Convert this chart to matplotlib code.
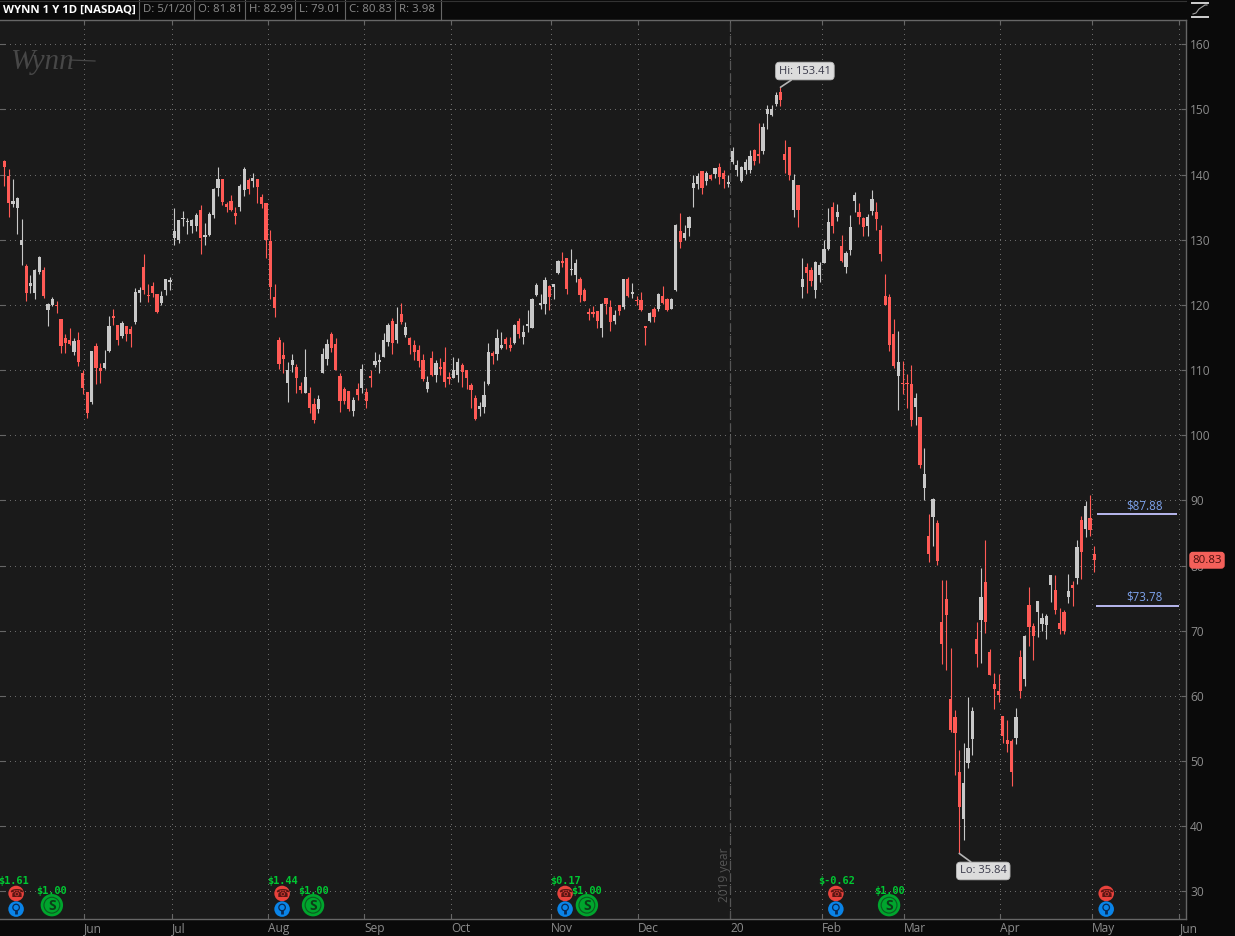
"""WYNN 1 Y 1D candlestick chart, thinkorswim dark look."""

import numpy as np
import matplotlib
matplotlib.use("Agg")
import matplotlib.pyplot as plt
from matplotlib.lines import Line2D
from matplotlib.patches import Rectangle

opens = [
    142.04, 139.74, 135.44, 134.88, 129.15, 125.93, 122.91, 121.79, 125.01, 125.32,
    119.23, 119.95, 120.00, 117.80, 114.88, 114.68, 112.78, 114.57, 109.51, 106.60,
    105.06, 113.65, 110.28, 110.28, 112.89, 118.26, 116.88, 115.19, 116.72, 116.26,
    117.44, 121.79, 125.78, 121.48, 122.86, 121.63, 120.35, 122.25, 123.47, 130.23,
    129.92, 133.19, 132.78, 132.07, 132.07, 134.52, 130.38, 130.69, 133.76, 137.90,
    139.28, 135.44, 135.90, 134.06, 134.98, 137.59, 139.13, 138.97, 139.28, 136.52,
    135.60, 129.77, 121.17, 114.57,
    112.36, 108.05, 110.82, 110.52, 107.59, 106.52, 106.52, 104.82, 104.05, 109.59,
    111.75, 115.59, 114.05, 109.13, 107.13, 106.82, 103.75, 107.13, 107.29, 106.67,
    109.13, 110.82, 111.28, 112.05, 114.36, 117.59, 114.67, 118.67, 115.44, 114.98,
    113.90, 113.13, 111.59, 107.13, 111.90, 109.29, 110.52, 111.28, 108.98, 108.82,
    109.29, 110.82, 110.05, 107.75, 105.75, 104.05, 104.36, 107.90, 112.67, 112.52,
    113.44, 114.82, 113.90, 114.16, 117.59, 115.13, 116.82,
    116.42, 121.48, 119.95, 120.16, 122.87, 122.71, 124.86, 126.70, 127.16, 125.37,
    124.55, 123.94, 122.25, 118.98, 118.88, 119.03, 116.42, 121.03, 119.64, 117.50,
    119.95, 119.64, 123.94, 121.64, 120.82, 120.72, 116.73, 117.50, 119.34, 119.34,
    121.33, 120.87, 119.34, 122.25, 131.31, 130.23, 131.77, 137.91, 138.52, 140.51,
    138.98, 139.90, 140.05, 141.13, 140.21, 138.52, 141.89, 140.67, 138.98, 140.67,
    140.67, 143.74, 143.12, 143.64, 149.28, 149.13, 150.82, 152.65,
    143.16, 144.23, 134.59, 138.42, 122.81, 125.87, 125.41, 122.35, 124.64, 126.48,
    128.57, 135.05, 133.52, 129.08, 125.87, 128.47, 135.97, 134.28, 133.37, 132.14,
    134.44, 134.28, 131.53, 121.43, 121.28, 115.59, 109.13, 108.05, 108.00, 107.90,
    104.36, 102.82, 91.90, 84.52, 87.44, 86.51,
    71.30, 74.83, 59.49, 56.72, 48.28, 41.07, 49.67, 53.35, 68.69, 71.61,
    77.44, 66.70, 61.79, 60.71, 56.88, 53.18, 53.04, 53.50, 65.93, 62.56,
    73.91, 70.69, 72.84, 71.00, 70.84, 76.98, 76.21, 71.15, 72.84, 75.14,
    76.98, 78.05, 86.98, 85.59, 87.28, 81.81,
]
highs = [
    142.30, 140.92, 139.38, 136.57, 133.19, 126.34, 124.60, 125.47, 127.52, 125.83,
    120.30, 121.28, 120.66, 117.80, 115.60, 116.42, 114.98, 115.90, 109.97, 106.60,
    112.89, 114.22, 111.15, 113.14, 118.36, 119.43, 116.88, 117.59, 116.77, 116.77,
    122.66, 122.81, 127.87, 123.27, 123.47, 121.63, 122.20, 124.04, 124.34, 134.93,
    132.99, 134.47, 133.40, 133.14, 134.16, 135.39, 132.63, 134.32, 138.00, 141.22,
    139.28, 135.75, 136.93, 135.09, 138.51, 141.22, 139.54, 140.30, 139.28, 137.08,
    135.60, 131.56, 123.27, 115.14,
    114.31, 111.18, 112.52, 110.93, 108.16, 113.23, 107.39, 105.70, 106.16, 113.39,
    114.77, 115.90, 114.93, 109.54, 107.44, 106.82, 105.90, 108.00, 110.93, 107.23,
    110.05, 112.77, 112.46, 115.75, 117.23, 118.00, 119.69, 120.31, 117.39, 115.13,
    114.62, 113.85, 112.52, 109.08, 112.98, 111.54, 111.85, 113.54, 109.70, 112.00,
    111.85, 111.08, 110.05, 108.00, 106.16, 105.13, 108.31, 114.16, 112.93, 116.31,
    115.85, 115.08, 115.08, 117.13, 118.00, 116.93, 119.23,
    121.08, 123.43, 121.74, 124.35, 123.12, 123.28, 126.96, 128.19, 127.16, 128.54,
    127.11, 124.35, 122.66, 119.59, 119.90, 119.13, 120.26, 121.03, 120.82, 119.29,
    119.95, 123.94, 124.25, 123.43, 121.43, 122.05, 116.83, 118.98, 119.64, 121.89,
    122.97, 121.13, 121.13, 132.48, 134.17, 132.33, 133.71, 139.90, 140.31, 140.51,
    140.62, 140.05, 140.97, 141.84, 140.77, 140.00, 144.30, 142.20, 141.28, 142.35,
    143.74, 143.94, 148.00, 147.85, 150.67, 150.76, 152.70, 153.41,
    145.25, 144.28, 140.05, 138.42, 127.19, 126.43, 125.82, 126.79, 126.58, 129.90,
    134.85, 135.82, 135.46, 130.71, 128.27, 133.77, 137.29, 135.61, 133.47, 134.03,
    137.60, 135.76, 132.24, 124.74, 121.64, 117.85, 116.00, 111.39, 109.39, 110.77,
    106.46, 102.87, 98.00, 87.85, 90.31, 87.08,
    77.85, 77.85, 67.42, 57.90, 51.76, 52.84, 59.85, 58.36, 71.41, 79.69,
    83.89, 67.26, 63.58, 63.43, 56.88, 56.37, 53.45, 58.21, 67.11, 69.41,
    76.78, 71.25, 74.53, 72.79, 72.63, 78.51, 78.62, 73.55, 73.25, 78.67,
    77.59, 83.89, 87.59, 89.90, 90.82, 82.99,
]
lows = [
    138.26, 133.50, 135.03, 130.94, 126.14, 120.61, 121.84, 120.97, 124.75, 121.07,
    116.77, 119.79, 118.77, 112.63, 112.63, 113.81, 112.32, 110.64, 106.39, 102.66,
    104.80, 107.87, 108.08, 110.18, 112.73, 116.93, 113.86, 114.88, 114.52, 113.55,
    117.08, 120.46, 121.68, 120.46, 121.22, 118.72, 120.00, 121.53, 122.30, 129.20,
    129.51, 132.12, 130.94, 130.99, 131.35, 127.82, 129.20, 130.53, 133.30, 136.72,
    135.29, 134.27, 134.47, 132.43, 134.42, 136.72, 137.03, 138.10, 135.65, 134.83,
    127.21, 120.92, 118.15, 110.23,
    109.49, 105.18, 109.70, 106.57, 106.57, 106.46, 103.49, 101.95, 103.49, 109.49,
    110.72, 112.72, 109.95, 103.64, 104.88, 103.80, 103.03, 105.49, 106.57, 104.26,
    107.34, 110.41, 109.49, 112.00, 113.75, 112.41, 114.11, 117.13, 115.13, 112.52,
    111.59, 110.52, 108.26, 106.72, 109.13, 108.11, 109.29, 107.49, 107.90, 108.72,
    108.11, 107.34, 107.18, 104.21, 102.41, 103.03, 103.49, 107.75, 110.87, 111.59,
    113.28, 113.28, 112.98, 114.00, 114.93, 113.95, 115.80,
    116.42, 121.33, 119.39, 118.62, 119.23, 120.92, 124.71, 125.83, 121.69, 124.61,
    123.53, 120.46, 120.56, 117.65, 118.11, 116.42, 115.04, 118.57, 116.01, 117.03,
    118.42, 119.34, 121.18, 121.13, 119.95, 119.03, 113.86, 117.34, 117.34, 119.03,
    120.21, 119.03, 119.34, 122.15, 128.70, 129.92, 130.54, 134.99, 137.80, 136.98,
    138.36, 139.13, 139.54, 138.52, 137.91, 138.16, 141.59, 139.80, 138.88, 140.05,
    140.21, 141.43, 141.79, 143.20, 147.08, 149.03, 150.51, 150.56,
    140.31, 139.13, 133.47, 132.04, 121.02, 121.84, 122.96, 121.02, 123.47, 126.43,
    128.42, 131.12, 132.91, 126.58, 124.95, 127.60, 134.28, 132.35, 130.66, 130.51,
    133.83, 131.43, 126.68, 120.00, 112.87, 110.31, 103.85, 106.31, 104.26, 101.49,
    101.64, 95.03, 90.00, 80.57, 83.03, 80.16,
    64.91, 64.04, 54.42, 47.88, 35.84, 37.90, 49.00, 50.94, 64.45, 65.06,
    69.72, 63.17, 57.98, 59.08, 52.84, 51.35, 46.19, 52.68, 59.74, 61.53,
    67.72, 65.57, 69.10, 69.92, 68.77, 74.42, 72.58, 69.46, 69.51, 74.22,
    73.81, 77.24, 77.95, 84.41, 84.62, 79.01,
]
closes = [
    141.17, 135.65, 135.90, 136.36, 129.92, 121.84, 123.32, 125.32, 127.31, 121.33,
    120.10, 120.87, 119.90, 113.70, 114.11, 113.96, 114.42, 111.25, 107.26, 103.37,
    112.89, 110.28, 109.82, 111.05, 116.72, 118.00, 114.57, 117.23, 115.50, 115.50,
    121.94, 122.25, 122.25, 121.38, 121.79, 118.87, 121.33, 123.94, 123.88, 131.30,
    132.99, 133.30, 132.89, 132.99, 133.76, 130.23, 130.69, 133.91, 137.75, 139.28,
    135.75, 134.98, 134.52, 133.60, 138.21, 140.81, 137.75, 139.43, 138.05, 135.44,
    129.92, 122.71, 119.48, 110.89,
    111.75, 110.05, 111.59, 108.82, 106.93, 108.98, 104.21, 102.41, 105.59, 112.52,
    114.05, 113.44, 110.05, 105.29, 105.29, 104.00, 105.44, 106.21, 110.21, 105.29,
    108.82, 111.44, 111.59, 114.67, 116.98, 114.21, 117.13, 117.44, 116.67, 113.90,
    112.82, 111.44, 108.67, 108.21, 109.29, 111.13, 110.21, 108.21, 108.67, 110.05,
    111.28, 109.75, 108.82, 106.98, 102.52, 104.52, 106.21, 112.82, 112.21, 114.98,
    113.90, 114.05, 113.44, 116.98, 115.59, 115.90, 117.13,
    120.87, 123.07, 120.26, 123.79, 121.18, 123.17, 126.70, 126.40, 122.41, 125.47,
    126.40, 121.48, 120.56, 118.67, 118.57, 117.50, 120.10, 120.10, 117.34, 118.42,
    119.03, 123.94, 121.33, 121.95, 120.67, 119.18, 116.42, 118.77, 118.11, 121.69,
    120.26, 119.18, 120.92, 132.28, 129.62, 130.99, 133.45, 138.67, 139.85, 137.91,
    140.21, 139.29, 140.97, 139.59, 139.29, 138.82, 143.58, 141.43, 141.13, 141.89,
    142.81, 142.05, 142.81, 147.33, 150.05, 150.05, 152.19, 151.43,
    142.24, 139.95, 139.18, 134.64, 124.03, 124.95, 123.72, 126.63, 126.17, 128.62,
    132.75, 132.14, 134.28, 126.79, 128.01, 131.99, 136.89, 133.52, 131.99, 133.52,
    136.28, 133.21, 127.86, 120.00, 113.90, 110.67, 111.28, 107.95, 107.90, 102.36,
    105.75, 95.44, 94.05, 81.75, 90.21, 80.67,
    67.93, 72.38, 54.73, 54.27, 42.91, 46.60, 51.97, 57.65, 66.39, 75.14,
    71.30, 63.17, 61.02, 60.10, 53.81, 52.58, 48.29, 56.72, 60.71, 69.15,
    70.53, 69.15, 74.53, 71.92, 72.22, 78.51, 73.14, 70.23, 69.92, 76.06,
    76.52, 82.81, 82.05, 89.13, 85.44, 80.83,
]

y_ticks = [30, 40, 50, 60, 70, 80, 90, 100, 110, 120, 130, 140, 150, 160]
month_labels = ["Jun", "Jul", "Aug", "Sep", "Oct", "Nov", "Dec", "20", "Feb", "Mar", "Apr", "May", "Jun"]
month_bars = [18.34, 38.5, 60.5, 82.6, 102.5, 125.4, 145.4, 166.5, 187.5, 206.4, 228.4, 249.5, 269.5]

header_labels = ["D: 5/1/20", "O: 81.81", "H: 82.99", "L: 79.01", "C: 80.83", "R: 3.98"]

earnings_bars = [2.7, 63.7, 128.6, 190.7, 252.7]
earnings_label_bars = [2.0, 63.9, 128.8, 190.9]
earnings_labels = ["$1.61", "$1.44", "$0.17", "$-0.62"]
dividend_bars = [10.9, 70.8, 133.6, 202.9]
dividend_labels = ["$1.00", "$1.00", "$1.00", "$1.00"]

levels = [87.88, 73.78]
level_spans = [(250.6, 269.0), (250.4, 269.4)]

BG = "#1a1a1a"
DARK = "#0a0a0a"
RED = "#ff5a55"
GRAY = "#c8c8c8"
TXT = "#8c8c8c"
GRID = "#6a6a6a"
LINE = "#666666"
FONT = "Open Sans"
W, H = 1235, 936

plt.rcParams["font.family"] = [FONT, "DejaVu Sans"]


def fx(x):
    return x / W


def fy(y):
    return 1 - y / H


def fig_line(fig, xs, ys, color, lw):
    fig.add_artist(Line2D([fx(x) for x in xs], [fy(y) for y in ys], color=color, lw=lw))


def draw_header(fig):
    fig.add_artist(Rectangle((0, fy(20)), 1, 20 / H, transform=fig.transFigure, color=DARK, zorder=-1))
    fig.text(fx(3), fy(10), "WYNN 1 Y 1D [NASDAQ]", color="white", fontsize=8.2,
             fontweight="bold", va="center")
    seps = [139, 194, 245, 295, 345, 395, 441]
    for sep, label in zip(seps, header_labels):
        fig.text(fx(sep + 4), fy(10), label, color=TXT, fontsize=8.2, va="center")
    for sep in seps:
        fig_line(fig, [sep, sep], [0, 20], LINE, 0.8)
    fig_line(fig, [0, 1186], [0.5, 0.5], "#333333", 0.8)
    # icon at the top right corner
    fig_line(fig, [1192, 1208], [2.5, 2.5], "#d0d0d0", 1.4)
    fig_line(fig, [1192, 1208], [16.5, 16.5], "#d0d0d0", 1.4)
    fig_line(fig, [1193, 1196, 1199, 1202, 1205, 1207], [14, 13, 9, 7, 5, 5], "#a0a0a0", 0.8)


def draw_candles(ax):
    idx = np.arange(len(closes))
    o, h, l, c = map(np.array, (opens, highs, lows, closes))
    up = c >= o
    colors = np.where(up, GRAY, RED)
    ax.vlines(idx, l, h, colors=colors, lw=0.8, zorder=3)
    tops = np.maximum(o, c)
    bottoms = np.minimum(o, c)
    ax.bar(idx, np.maximum(tops - bottoms, 0.12), bottom=bottoms, width=0.74,
           color=colors, linewidth=0, zorder=4)


def draw_events(ax):
    for bar in earnings_bars:
        ax.scatter(bar, 29.7, s=125, color="#e8423c", edgecolors="none", zorder=6)
        ax.text(bar, 29.65, "\u260e", color="#5a1512", fontsize=8, ha="center", va="center",
                family="DejaVu Sans", zorder=7)
        ax.scatter(bar, 27.3, s=125, color="#0a84e8", edgecolors="none", zorder=6)
        ax.scatter(bar, 27.55, s=22, facecolors="none", edgecolors="#082a55", lw=0.9, zorder=7)
        ax.vlines(bar, 26.5, 27.1, color="#082a55", lw=2, zorder=7)
    for bar, label in zip(earnings_label_bars, earnings_labels):
        ax.text(bar, 31.55, label, color="#00c832", fontsize=7.4, ha="center",
                va="center", family="DejaVu Sans Mono", fontweight="bold", zorder=7)
    for bar, label in zip(dividend_bars, dividend_labels):
        ax.scatter(bar, 27.9, s=260, color="#00a52d", edgecolors="none", zorder=6)
        ax.scatter(bar, 27.9, s=130, facecolors="none", edgecolors="#0b5a20", lw=0.8, zorder=7)
        ax.text(bar, 27.85, "S", color="#0b3d18", fontsize=10, ha="center", va="center",
                fontweight="bold", zorder=7)
        ax.text(bar, 30.15, label, color="#00c832", fontsize=7.4, ha="center", va="center",
                family="DejaVu Sans Mono", fontweight="bold", zorder=7)


def draw_callouts(ax):
    box = dict(boxstyle="round,pad=0.3,rounding_size=0.35", fc="#dcdcdc", ec="#bbbbbb", lw=0.6)
    arrow = dict(arrowstyle="-", color="#b4b4b4", lw=1.2, shrinkA=0, shrinkB=0)
    ax.annotate("Hi: 153.41", xy=(178, 153.41), xytext=(183.6, 155.9), color="#3a3a4a",
                fontsize=8, ha="center", va="center", bbox=box, arrowprops=arrow, zorder=8)
    ax.annotate("Lo: 35.84", xy=(219, 35.84), xytext=(224.5, 33.15), color="#3a3a4a",
                fontsize=8, ha="center", va="center", bbox=box, arrowprops=arrow, zorder=8)
    ax.annotate("80.83", xy=(1.0, closes[-1]), xycoords=("axes fraction", "data"),
                xytext=(4.5, 0), textcoords="offset points", color="#4a0f0d", fontsize=8.2,
                va="center", annotation_clip=False, zorder=9,
                bbox=dict(boxstyle="round,pad=0.2,rounding_size=0.25", fc="#f4605a", ec="#f4605a"))


def main():
    fig = plt.figure(figsize=(W / 100, H / 100), dpi=100, facecolor=DARK)
    ax = fig.add_axes([0, fy(919), fx(1186), (919 - 20) / H], facecolor=BG)

    # scales: one bar is 4.36 px, one dollar is 6.517 px
    ax.set_xlim(-0.993, 271.0)
    ax.set_ylim(25.78, 163.73)

    ax.set_yticks(y_ticks)
    ax.set_xticks(month_bars)
    ax.set_xticklabels(month_labels)
    ax.yaxis.tick_right()
    ax.tick_params(axis="both", which="both", direction="in", length=3.6, width=0.8,
                   color=LINE, labelcolor=TXT, labelsize=8.6, top=True, bottom=True,
                   left=True, right=True, labelleft=False, labelright=True)
    ax.tick_params(axis="y", pad=3)
    ax.tick_params(axis="x", pad=2.5)
    for lab in ax.get_xticklabels():
        lab.set_ha("left")
    for spine in ax.spines.values():
        spine.set_color(LINE)
        spine.set_linewidth(1.0)
    ax.spines["left"].set_visible(False)

    ax.grid(True, color=GRID, lw=0.72, linestyle=(0, (1, 5)), antialiased=False, zorder=1)
    ax.set_axisbelow(True)

    # year divider
    ax.axvline(month_bars[7], color="#555555", lw=0.9, linestyle=(0, (7, 3)), zorder=2)
    ax.text(month_bars[7] - 1.4, 32.5, "2019 year", color="#555555", fontsize=8.6, rotation=90,
            ha="center", va="center", zorder=2)

    # signature watermark
    ax.text(10.5 / 1186, 1 - 42 / 899, "Wynn", transform=ax.transAxes, color="#474747", fontsize=21,
            family="Liberation Serif", fontstyle="italic", va="center", zorder=2)
    ax.plot([70 / 1186, 95 / 1186], [1 - 40 / 899, 1 - 41 / 899], transform=ax.transAxes,
            color="#474747", lw=0.9, zorder=2)

    draw_candles(ax)

    for level, (x0, x1) in zip(levels, level_spans):
        ax.hlines(level, x0, x1, color="#c4c4ff", lw=1.3, zorder=5)
        ax.text((x0 + x1) / 2 + 1.6, level + 1.35, f"${level:.2f}", color="#7ea4ee", fontsize=8.3,
                ha="center", va="center", zorder=5)

    draw_events(ax)
    draw_callouts(ax)
    draw_header(fig)

    fig.savefig("out.png", dpi=100, facecolor=DARK)
    plt.close(fig)


if __name__ == "__main__":
    main()
